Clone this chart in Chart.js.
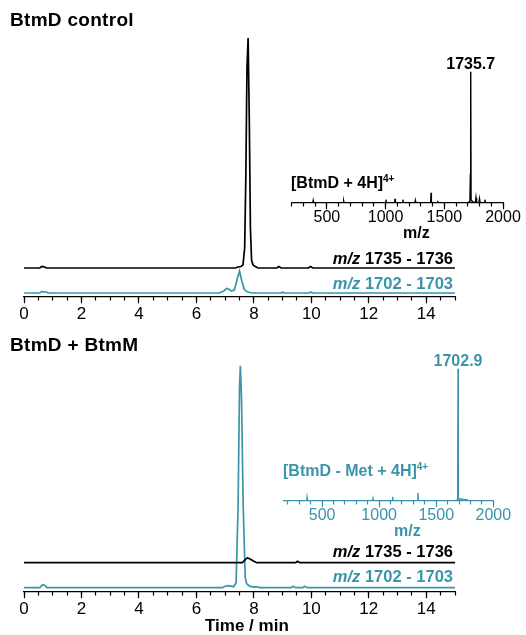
<!DOCTYPE html>
<html>
<head>
<meta charset="utf-8">
<script src="https://cdn.jsdelivr.net/npm/chart.js@4.4.1/dist/chart.umd.min.js"></script>
<style>
body { margin: 0; width: 526px; height: 635px; position: relative; background: #fff; overflow: hidden;
       font-family: "Liberation Sans", Arial, sans-serif; }
.box { position: absolute; }
.lbl { position: absolute; font-weight: bold; white-space: nowrap; line-height: 1; }
.lbl sup { font-size: 10px; vertical-align: 6px; line-height: 0; }
.teal { color: #3a95aa; }
</style>
</head>
<body>
<div class="box" style="left:0;top:0;width:526px;height:330px"><canvas id="ctrlMain"></canvas></div>
<div class="box" style="left:250px;top:40px;width:276px;height:200px"><canvas id="ctrlInset"></canvas></div>
<div class="box" style="left:0;top:330px;width:526px;height:305px"><canvas id="mixMain"></canvas></div>
<div class="box" style="left:240px;top:330px;width:286px;height:200px"><canvas id="mixInset"></canvas></div>

<div class="lbl" style="left:10px;top:10px;font-size:19px;letter-spacing:0.3px">BtmD control</div>
<div class="lbl" style="right:73px;top:250px;font-size:16.5px"><i>m/z</i> 1735 - 1736</div>
<div class="lbl teal" style="right:73px;top:275px;font-size:16.5px"><i>m/z</i> 1702 - 1703</div>
<div class="lbl" style="left:291px;top:175px;font-size:16px">[BtmD + 4H]<sup>4+</sup></div>
<div class="lbl" style="left:403px;top:225px;font-size:16px">m/z</div>

<div class="lbl" style="left:10px;top:335px;font-size:19px;letter-spacing:0.3px">BtmD + BtmM</div>
<div class="lbl" style="right:73px;top:543px;font-size:16.5px"><i>m/z</i> 1735 - 1736</div>
<div class="lbl teal" style="right:73px;top:568px;font-size:16.5px"><i>m/z</i> 1702 - 1703</div>
<div class="lbl teal" style="left:283px;top:463px;font-size:16px">[BtmD - Met + 4H]<sup>4+</sup></div>
<div class="lbl teal" style="left:394px;top:523px;font-size:16px">m/z</div>
<div class="lbl" style="left:205px;top:617px;font-size:17px">Time / min</div>

<script>
const teal = '#3a95aa';
const black = '#000';

// extracted ion chromatograms, time in min, intensity in arbitrary units
const ctrlBlackTime = [0, 0.55, 0.62, 0.7, 0.78, 7.35, 7.45, 7.55, 7.62, 7.68, 7.72, 7.76, 7.8, 7.84, 7.88, 7.92, 7.97, 8.05, 8.15, 8.8, 8.87, 8.95, 9.9, 9.97, 10.05, 15];
const ctrlBlackInt = [0, 0, 1.5, 1.2, 0, 0, 1, 1.5, 3, 20, 90, 200, 230, 150, 40, 8, 3, 1.5, 0, 0, 1.5, 0, 0, 1.5, 0, 0];
const ctrlTealTime = [0, 0.55, 0.62, 0.68, 0.75, 0.85, 6.8, 6.95, 7.05, 7.12, 7.22, 7.32, 7.42, 7.5, 7.58, 7.66, 7.75, 7.85, 8.0, 8.95, 9.0, 9.05, 9.93, 9.98, 10.05, 15];
const ctrlTealInt = [0, 0, 1.5, 1, 1.2, 0, 0, 2, 4.5, 4, 2, 3, 14, 22, 12, 4, 1.5, 0.5, 0, 0, 1, 0, 0, 1, 0, 0];

const mixBlackTime = [0, 7.6, 7.7, 7.78, 7.88, 8.0, 8.1, 9.45, 9.52, 9.6, 15];
const mixBlackInt = [0, 0, 3, 5, 3.5, 1.5, 0, 0, 1.5, 0, 0];
const mixTealTime = [0, 0.55, 0.65, 0.72, 0.8, 6.9, 7.0, 7.1, 7.2, 7.3, 7.38, 7.45, 7.5, 7.53, 7.57, 7.63, 7.7, 7.75, 7.85, 8.0, 8.1, 8.2, 9.3, 9.37, 9.45, 9.7, 9.77, 9.85, 15];
const mixTealInt = [0, 0, 3, 2.5, 0, 0, 1.5, 2, 1.5, 1, 5, 80, 200, 222, 190, 80, 10, 4, 1.5, 0.5, 1, 0, 0, 1.5, 0, 0, 1.5, 0, 0];

// mass spectra (insets), m/z vs intensity
const ctrlMz = [200, 380, 383, 386, 640, 643, 646, 1000, 1003, 1006, 1077, 1080, 1083, 1145, 1148, 1151, 1250, 1253, 1256, 1384, 1387, 1390, 1440, 1443, 1446, 1700, 1718, 1722, 1725, 1728, 1740, 1765, 1770, 1775, 1795, 1800, 1805, 1842, 1846, 1850, 2000];
const ctrlMzInt = [0, 0, 2, 0, 0, 1.5, 0, 0, 3, 0, 0, 4, 0, 0, 3, 0, 0, 2, 0, 0, 10, 0, 0, 2, 0, 0, 1, 28, 131, 3, 1, 0, 5, 0, 0, 4, 0, 0, 3, 0, 0];
const mixMz = [160, 365, 368, 371, 943, 946, 949, 1116, 1119, 1122, 1336, 1340, 1344, 1670, 1684, 1688, 1691, 1694, 1705, 1722, 1726, 1740, 1770, 1775, 2000];
const mixMzInt = [0, 0, 3, 0, 0, 2, 0, 0, 4, 0, 0, 8, 0, 0, 1, 27, 132, 3, 1, 2, 1.5, 1, 1, 0, 0];

const timeTicks = [0, 2, 4, 6, 8, 10, 12, 14];
const mzTicks = [500, 1000, 1500, 2000];

// vertical offsets of the stacked traces
const blackOffset = 29;
const tealOffset = 4;

Chart.defaults.font.family = '"Liberation Sans", Arial, sans-serif';

const toPoints = (xs, ys, off) => xs.map((x, i) => ({ x: x, y: ys[i] + off }));

const peakLabel = {
    id: 'peakLabel',
    afterDatasetsDraw(chart, args, opts) {
        const pts = chart.getDatasetMeta(0).data;
        let top = pts[0];
        pts.forEach(p => { if (p.y < top.y) top = p; });
        const ctx = chart.ctx;
        ctx.save();
        ctx.font = 'bold 16px "Liberation Sans", Arial, sans-serif';
        ctx.fillStyle = opts.color;
        ctx.textAlign = 'center';
        ctx.textBaseline = 'alphabetic';
        ctx.fillText(opts.text, top.x, top.y - 3);
        ctx.restore();
    }
};

function trace(data, color) {
    return { data: data, borderColor: color, borderWidth: 1.7, pointRadius: 0, tension: 0, fill: false };
}

// major axis carries the labels, a second axis on the same line draws the short ticks
function xAxes(min, max, minor, labels, color, size, labelPad) {
    return {
        x: {
            type: 'linear', position: { y: 0 }, min: min, max: max,
            afterBuildTicks: s => { s.ticks = labels.map(v => ({ value: v })); },
            ticks: { autoSkip: false, maxRotation: 0, color: color, padding: labelPad, font: { size: size },
                     callback: v => String(v) },
            grid: { drawOnChartArea: false, tickLength: 6, tickWidth: 1.2, tickColor: color },
            border: { display: true, color: color, width: 1.3 }
        },
        xm: {
            type: 'linear', axis: 'x', position: { y: 0 }, min: min, max: max,
            afterBuildTicks: s => {
                const t = [];
                for (let v = Math.ceil(min / minor) * minor; v <= max + 1e-9; v += minor) t.push({ value: v });
                s.ticks = t;
            },
            ticks: { display: false },
            grid: { drawOnChartArea: false, tickLength: 3.5, tickWidth: 1.2, tickColor: color },
            border: { display: false }
        }
    };
}

function mainChart(id, datasets, pad, ymax) {
    const scales = xAxes(0, 15, 0.5, timeTicks, black, 17, 1);
    scales.y = { display: false, min: 0, max: ymax };
    return new Chart(document.getElementById(id), {
        type: 'line',
        data: { datasets: datasets },
        options: {
            responsive: true, maintainAspectRatio: false, animation: false,
            layout: { padding: pad },
            plugins: { legend: { display: false }, tooltip: { enabled: false } },
            scales: scales
        }
    });
}

function insetChart(id, mz, ints, min, color, label, pad, ymax) {
    const scales = xAxes(min, 2000, 100, mzTicks, color, 16, -1);
    scales.y = { display: false, min: 0, max: ymax };
    return new Chart(document.getElementById(id), {
        type: 'line',
        data: { datasets: [{ data: toPoints(mz, ints, 0), borderColor: color, borderWidth: 1.4, pointRadius: 0, tension: 0, fill: false }] },
        options: {
            responsive: true, maintainAspectRatio: false, animation: false,
            layout: { padding: pad },
            plugins: { legend: { display: false }, tooltip: { enabled: false }, peakLabel: { text: label, color: color } },
            scales: scales
        },
        plugins: [peakLabel]
    });
}

mainChart('ctrlMain', [
    trace(toPoints(ctrlBlackTime, ctrlBlackInt, blackOffset), black),
    trace(toPoints(ctrlTealTime, ctrlTealInt, tealOffset), teal)
], { left: 24, right: 71, top: 30, bottom: 33 }, 267);

insetChart('ctrlInset', ctrlMz, ctrlMzInt, 200, black, '1735.7',
    { left: 41.7, right: 23, top: 20, bottom: 37.3 }, 142.7);

mainChart('mixMain', [
    trace(toPoints(mixBlackTime, mixBlackInt, blackOffset), black),
    trace(toPoints(mixTealTime, mixTealInt, tealOffset), teal)
], { left: 24, right: 71, top: 20, bottom: 43.3 }, 241.7);

insetChart('mixInset', mixMz, mixMzInt, 160, teal, '1702.9',
    { left: 43.3, right: 32.7, top: 20, bottom: 29.3 }, 150.7);
</script>
</body>
</html>
